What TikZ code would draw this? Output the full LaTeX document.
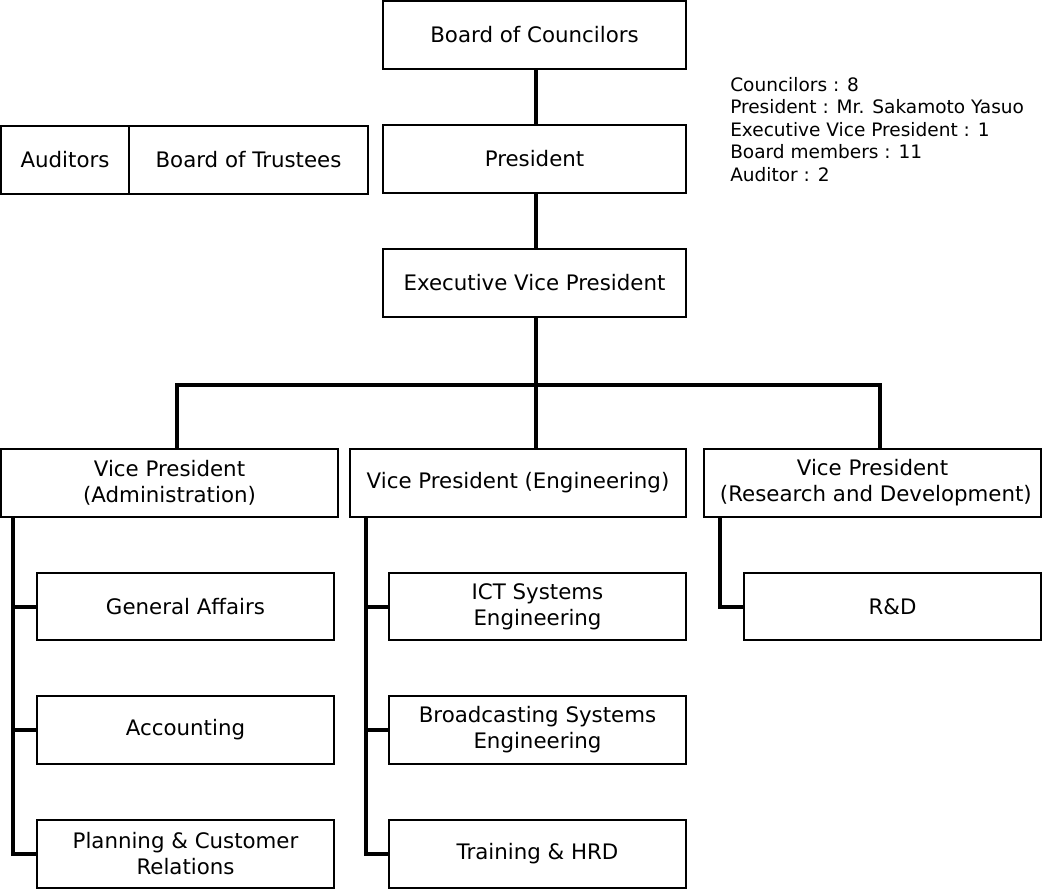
\documentclass[tikz,border=0pt]{standalone}
\usepackage{fontspec}
\setmainfont{DejaVu Sans}
\begin{document}
\begin{tikzpicture}[x=0.75pt,y=-0.75pt,
  box/.style={draw=black,line width=1.5pt,fill=white,inner sep=0pt,align=center,
    font=\fontsize{16pt}{19.5pt}\selectfont},
  conn/.style={line width=3pt,line cap=butt}]
\useasboundingbox (0,0) rectangle (1046,895);
% boxes (centre, width, height in px)
\node[box,minimum width=303*0.75pt,minimum height=68*0.75pt] (council) at (534.5,35) {Board of Councilors};
\node[box,minimum width=303*0.75pt,minimum height=68*0.75pt] (pres) at (534.5,159) {President};
\node[box,minimum width=303*0.75pt,minimum height=68*0.75pt] (evp) at (534.5,283) {Executive Vice President};
\node[box,minimum width=128*0.75pt,minimum height=68*0.75pt] (aud) at (65,160) {Auditors};
\node[box,minimum width=239*0.75pt,minimum height=68*0.75pt] (trust) at (248.5,160) {Board of Trustees};
\node[box,minimum width=337*0.75pt,minimum height=68*0.75pt] (vpa) at (169.5,483) {Vice President\\(Administration)};
\node[box,minimum width=336*0.75pt,minimum height=68*0.75pt] (vpe) at (518,483) {Vice President (Engineering)};
\node[box,minimum width=337*0.75pt,minimum height=68*0.75pt] (vpr) at (872.5,483) {Vice President\\\ (Research and Development)};
\node[box,minimum width=297*0.75pt,minimum height=67*0.75pt] (ga) at (185.5,606.5) {General Affairs};
\node[box,minimum width=297*0.75pt,minimum height=68*0.75pt] (acc) at (185.5,730) {Accounting};
\node[box,minimum width=297*0.75pt,minimum height=68*0.75pt] (plan) at (185.5,854) {Planning \& Customer\\Relations};
\node[box,minimum width=297*0.75pt,minimum height=67*0.75pt] (ict) at (537.5,606.5) {ICT Systems\\Engineering};
\node[box,minimum width=297*0.75pt,minimum height=68*0.75pt] (bse) at (537.5,730) {Broadcasting Systems\\Engineering};
\node[box,minimum width=297*0.75pt,minimum height=68*0.75pt] (trn) at (537.5,854) {Training \& HRD};
\node[box,minimum width=297*0.75pt,minimum height=67*0.75pt] (rd) at (892.5,606.5) {R\&D};
% note
\node[anchor=north west,inner sep=0pt,align=left,font=\fontsize{13.9pt}{16.9pt}\selectfont] (note) at (730,77)
 {Councilors : 8\\President : Mr. Sakamoto Yasuo\\Executive Vice President : 1\\Board members : 11\\Auditor : 2};
% connectors
\coordinate (busl) at (177,385);
\coordinate (busm) at (536,385);
\coordinate (busr) at (880,385);
\draw[conn] (council.south -| busm) -- (pres.north -| busm);
\draw[conn] (pres.south -| busm) -- (evp.north -| busm);
\draw[conn] (evp.south -| busm) -- (busm);
\draw[conn] ([xshift=-1.5pt]busl) -- ([xshift=1.5pt]busr);
\draw[conn] (busl) -- (vpa.north -| busl);
\draw[conn] (busm) -- (vpe.north -| busm);
\draw[conn] (busr) -- (vpr.north -| busr);
% admin spine
\coordinate (sa) at (13,517);
\draw[conn] (vpa.south -| sa) -- (plan.west -| sa) -- (plan.west);
\draw[conn] (ga.west -| sa) -- (ga.west);
\draw[conn] (acc.west -| sa) -- (acc.west);
% eng spine
\coordinate (se) at (366,517);
\draw[conn] (vpe.south -| se) -- (trn.west -| se) -- (trn.west);
\draw[conn] (ict.west -| se) -- (ict.west);
\draw[conn] (bse.west -| se) -- (bse.west);
% r&d
\coordinate (sr) at (720,517);
\draw[conn] (vpr.south -| sr) -- (rd.west -| sr) -- (rd.west);
\end{tikzpicture}
\end{document}
